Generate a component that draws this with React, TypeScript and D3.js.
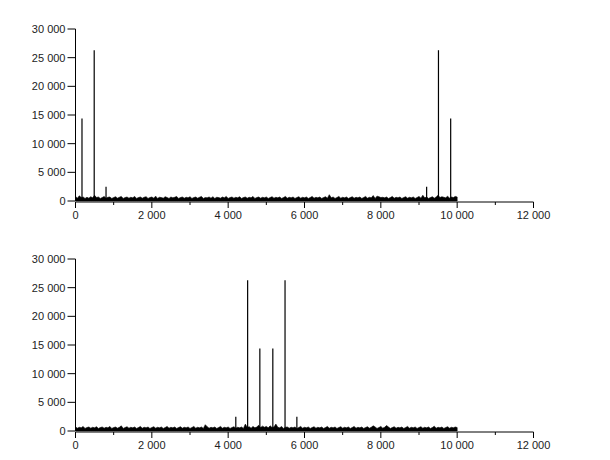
import React from "react";
import * as d3 from "d3";

// Spike components (frequency index, magnitude)
const topSpikeX = [170, 490, 800, 9200, 9510, 9830];
const topSpikeY = [14400, 26300, 2500, 2500, 26300, 14400];
const bottomSpikeX = [4200, 4510, 4830, 5170, 5490, 5800];
const bottomSpikeY = [2500, 26300, 14400, 14400, 26300, 2500];

// Noise floor envelope read every 50 units, 0..10000
const topNoise = [
  800, 500, 900, 600, 700, 450, 650, 500, 750, 550, 1000, 600, 700, 450, 600, 800, 500, 650, 700, 450,
  600, 750, 500, 650, 800, 450, 600, 700, 500, 650, 550, 800, 450, 600, 700, 500, 650, 750, 450, 600,
  700, 500, 850, 450, 650, 600, 500, 750, 600, 450, 700, 550, 650, 800, 450, 600, 700, 500, 650, 550,
  750, 450, 600, 700, 500, 650, 800, 450, 600, 550, 700, 500, 750, 450, 650, 600, 500, 700, 550, 800,
  450, 600, 700, 500, 650, 550, 750, 450, 600, 700, 500, 650, 550, 800, 450, 600, 700, 500, 650, 550,
  700, 450, 600, 750, 500, 650, 550, 700, 450, 600, 800, 500, 650, 550, 700, 450, 600, 750, 500, 650,
  550, 700, 450, 600, 800, 500, 650, 550, 700, 450, 600, 750, 500, 1100, 550, 700, 450, 600, 800, 500,
  650, 550, 700, 450, 600, 750, 500, 650, 550, 700, 450, 600, 800, 500, 650, 550, 950, 450, 850, 750,
  600, 650, 550, 700, 450, 600, 800, 500, 650, 550, 700, 450, 600, 750, 500, 650, 550, 700, 450, 600,
  800, 500, 1000, 550, 700, 450, 600, 750, 500, 700, 1000, 600, 750, 650, 550, 850, 500, 700, 600, 800, 700
];
const bottomNoise = [
  700, 500, 650, 550, 800, 450, 600, 700, 500, 650, 550, 750, 450, 600, 700, 500, 650, 550, 800, 450,
  600, 700, 500, 650, 900, 450, 600, 750, 500, 650, 550, 700, 450, 600, 800, 500, 650, 550, 700, 450,
  600, 750, 500, 650, 550, 700, 450, 600, 800, 500, 650, 550, 700, 450, 600, 750, 500, 650, 550, 700,
  450, 600, 800, 500, 650, 550, 700, 450, 1100, 750, 500, 650, 550, 700, 450, 600, 800, 500, 650, 550,
  700, 450, 600, 750, 500, 650, 550, 700, 450, 1200, 600, 750, 500, 800, 550, 700, 1000, 600, 850, 650,
  800, 550, 900, 600, 700, 1200, 650, 550, 800, 450, 650, 700, 500, 650, 550, 700, 450, 600, 800, 500,
  650, 550, 700, 450, 600, 750, 500, 650, 550, 700, 450, 600, 800, 500, 650, 550, 700, 450, 600, 750,
  500, 650, 550, 700, 450, 600, 800, 500, 650, 550, 700, 450, 600, 750, 500, 650, 900, 700, 450, 600,
  800, 500, 650, 950, 700, 450, 600, 750, 500, 650, 550, 700, 450, 600, 800, 500, 650, 550, 700, 450,
  600, 750, 500, 650, 550, 700, 450, 600, 850, 500, 650, 550, 700, 450, 600, 750, 500, 650, 550, 700, 600
];

const xTicks = [0, 2000, 4000, 6000, 8000, 10000, 12000];
const xMinorTicks = [1000, 3000, 5000, 7000, 9000, 11000];
const yTicks = [0, 5000, 10000, 15000, 20000, 25000, 30000];

const locale = d3.formatLocale({ decimal: ".", thousands: " ", grouping: [3], currency: ["", ""] });
const fmt = locale.format(",d");

const X0 = 75.5;
const X1 = 533.5;

function Panel({ top, bottom, noise, spikeX, spikeY }: { top: number; bottom: number; noise: number[]; spikeX: number[]; spikeY: number[] }) {
  const x = d3.scaleLinear().domain([0, 12000]).range([X0, X1]);
  const y = d3.scaleLinear().domain([0, 30000]).range([bottom, top]);
  const noisePts = noise.map((v, i) => [i * 50, v] as [number, number]);
  const area = d3
    .area<[number, number]>()
    .x((d) => x(d[0]))
    .y0(y(0))
    .y1((d) => y(d[1]))
    .curve(d3.curveLinear);
  const font = { fontFamily: "Liberation Sans, Arial, sans-serif", fontSize: 11, fill: "#222" };
  return (
    <g>
      <path d={area(noisePts) || ""} fill="#000" stroke="#000" strokeWidth={0.6} />
      {spikeX.map((sx, i) => (
        <line key={i} x1={x(sx)} x2={x(sx)} y1={y(0)} y2={y(spikeY[i])} stroke="#000" strokeWidth={1.2} />
      ))}
      {/* y axis */}
      <line x1={X0} x2={X0} y1={y(0)} y2={y(30000)} stroke="#000" />
      {yTicks.map((t) => (
        <g key={t}>
          <line x1={X0 - 8} x2={X0} y1={y(t)} y2={y(t)} stroke="#000" />
          <text x={X0 - 10} y={y(t)} dy="0.35em" textAnchor="end" {...font}>
            {fmt(t)}
          </text>
        </g>
      ))}
      {/* x axis */}
      <line x1={X0} x2={X1} y1={y(0) + 1} y2={y(0) + 1} stroke="#000" />
      {xTicks.map((t) => (
        <g key={t}>
          <line x1={x(t)} x2={x(t)} y1={y(0) + 1} y2={y(0) + 7} stroke="#000" />
          <text x={x(t)} y={y(0) + 18} textAnchor="middle" {...font}>
            {fmt(t)}
          </text>
        </g>
      ))}
      {xMinorTicks.map((t) => (
        <line key={t} x1={x(t)} x2={x(t)} y1={y(0) + 1} y2={y(0) + 4} stroke="#000" />
      ))}
    </g>
  );
}

export default function App() {
  return (
    <svg width={610} height={460} style={{ position: "absolute", left: 0, top: 0, background: "#fff" }}>
      <rect width={610} height={460} fill="#fff" />
      <Panel top={29} bottom={201} noise={topNoise} spikeX={topSpikeX} spikeY={topSpikeY} />
      <Panel top={259} bottom={431} noise={bottomNoise} spikeX={bottomSpikeX} spikeY={bottomSpikeY} />
    </svg>
  );
}
